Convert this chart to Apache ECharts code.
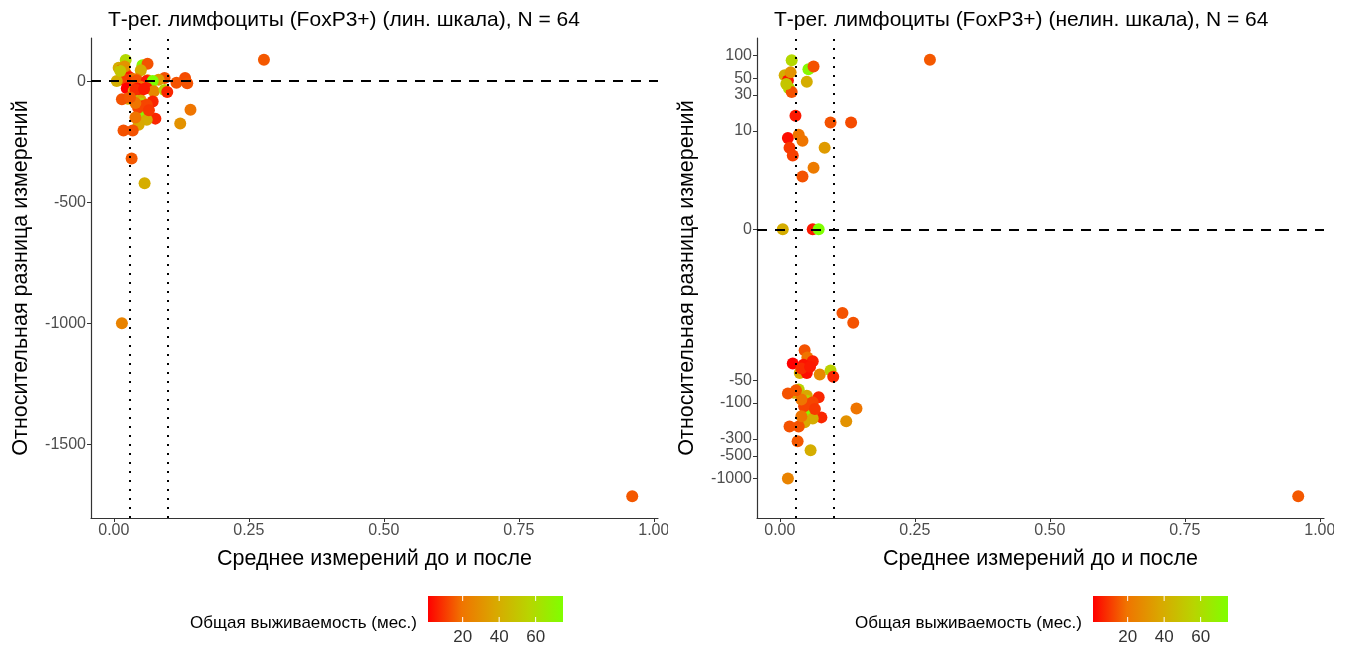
<!DOCTYPE html>
<html>
<head>
<meta charset="utf-8">
<script src="https://cdn.jsdelivr.net/npm/echarts@6/dist/echarts.min.js"></script>
<style>
  html, body { margin: 0; padding: 0; background: #fff; }
  #chart { width: 1352px; height: 653px; }
</style>
</head>
<body>
<div id="chart"></div>
<script>
// среднее измерений до и после
const xMean = [
  0.022, 0.053, 0.0625, 0.009, 0.015, 0.050, 0.017, 0.022, 0.029, 0.094,
  0.132, 0.015, 0.035, 0.042, 0.018, 0.024, 0.083, 0.0625, 0.042, 0.0055,
  0.061, 0.072, 0.278, 0.116, 0.136, 0.046, 0.051, 0.024, 0.061, 0.044,
  0.037, 0.050, 0.074, 0.094, 0.099, 0.035, 0.026, 0.015, 0.050, 0.050,
  0.072, 0.053, 0.061, 0.053, 0.077, 0.061, 0.046, 0.018, 0.035, 0.142,
  0.123, 0.033, 0.057, 0.015, 0.960, 0.040, 0.056, 0.045, 0.065, 0.040,
  0.030, 0.020, 0.012, 0.040
]
// относительная разница измерений
const relDiff = [
  87, 66, 72, 55, 47, 45, 37, 33, 16, 13,
  13, 8.1, 8.9, 7.4, 6.0, 4.7, 6.0, 3.2, 2.4, 0,
  0, 0, 88, -6.4, -8.6, -20, -25, -30, -28, -31,
  -40, -40, -42, -37, -45, -66, -73, -75, -80, -93,
  -84, -104, -98, -133, -155, -160, -180, -204, -204, -118,
  -175, -320, -422, -1000, -1715, -35, -33, -110, -120, -90,
  -68, 60, 42, -150
]
// общая выживаемость, мес.
const survival = [
  58, 72, 14, 40, 4, 40, 62, 14, 5, 14,
  13, 3, 20, 20, 10, 11, 33, 22, 14, 40,
  5, 75, 15, 14, 14, 14, 20, 1, 6, 4,
  40, 3, 27, 55, 7, 55, 40, 14, 38, 55,
  7, 9, 12, 72, 7, 40, 38, 14, 14, 20,
  30, 15, 40, 25, 15, 8, 5, 12, 10, 20,
  15, 30, 50, 20
]

const xTicks = [0, 0.25, 0.5, 0.75, 1]
const yTicksLin = [0, -500, -1000, -1500]
const yTicksNonlin = [100, 50, 30, 10, 0, -50, -100, -300, -500, -1000]
const legendTicks = [20, 40, 60]
const refX = [0.026, 0.101]
const refY = 0

const gradColors = ['#FF0000', '#F07400', '#D9A800', '#B8D500', '#7FFF00']
const fontFamily = '"Liberation Sans", Arial, sans-serif'

const survMin = Math.min(...survival)
const survMax = Math.max(...survival)

function expand (arr) {
  const lo = Math.min(...arr), hi = Math.max(...arr)
  const pad = (hi - lo) * 0.05
  return [lo - pad, hi + pad]
}

const linData = xMean.map((x, i) => [x, relDiff[i], survival[i]])
const nonlinData = xMean.map((x, i) => [x, Math.asinh(relDiff[i]), survival[i]])

const xRange = expand(xMean)
const yLinRange = expand(relDiff)
const yNonRange = expand(relDiff.map(Math.asinh))

const labelStyle = { fontSize: 16, color: '#4D4D4D', fontFamily: fontFamily }
const nameStyle = { fontSize: 21.5, color: '#000', fontFamily: fontFamily }

function xAxis (idx) {
  return {
    type: 'value',
    gridIndex: idx,
    min: xRange[0],
    max: xRange[1],
    name: 'Среднее измерений до и после',
    nameLocation: 'middle',
    nameGap: 30,
    nameTextStyle: nameStyle,
    axisLine: { show: true, onZero: false, lineStyle: { color: '#333', width: 1.2 } },
    axisTick: { show: true, customValues: xTicks, length: 4, lineStyle: { color: '#333' } },
    axisLabel: Object.assign({ customValues: xTicks, margin: 5, formatter: v => v.toFixed(2) }, labelStyle),
    splitLine: { show: false }
  }
}

function yAxis (idx, range, ticks, fmt) {
  return {
    type: 'value',
    gridIndex: idx,
    min: range[0],
    max: range[1],
    name: 'Относительная разница измерений',
    nameLocation: 'middle',
    nameGap: 59,
    nameTextStyle: nameStyle,
    axisLine: { show: true, onZero: false, lineStyle: { color: '#333', width: 1.2 } },
    axisTick: { show: true, customValues: ticks, length: 4, lineStyle: { color: '#333' } },
    axisLabel: Object.assign({ customValues: ticks, margin: 5, formatter: fmt }, labelStyle),
    splitLine: { show: false }
  }
}

function refLines (yVal) {
  return {
    silent: true,
    symbol: 'none',
    z: 10,
    label: { show: false },
    data: [
      { yAxis: yVal, lineStyle: { color: '#000', width: 2, type: [10, 8] } },
      { xAxis: refX[0], lineStyle: { color: '#000', width: 2, type: [2, 7] } },
      { xAxis: refX[1], lineStyle: { color: '#000', width: 2, type: [2, 7] } }
    ]
  }
}

// colour bar legends (one under each panel)
function colorBar (barLeft) {
  const barW = 135, barTop = 596, barH = 26
  const els = []
  els.push({
    type: 'text', x: barLeft - 11, y: 623,
    style: { text: 'Общая выживаемость (мес.)', fontSize: 17, fill: '#000', fontFamily: fontFamily, align: 'right', verticalAlign: 'middle' }
  })
  els.push({
    type: 'rect', shape: { x: barLeft, y: barTop, width: barW, height: barH },
    style: { fill: new echarts.graphic.LinearGradient(0, 0, 1, 0,
      gradColors.map((c, i) => ({ offset: i / (gradColors.length - 1), color: c }))) }
  })
  legendTicks.forEach(t => {
    const px = barLeft + (t - survMin) / (survMax - survMin) * barW
    els.push({ type: 'line', shape: { x1: px, y1: barTop, x2: px, y2: barTop + 5 }, style: { stroke: '#fff', lineWidth: 1 } })
    els.push({ type: 'line', shape: { x1: px, y1: barTop + barH - 5, x2: px, y2: barTop + barH }, style: { stroke: '#fff', lineWidth: 1 } })
    els.push({
      type: 'text', x: px, y: barTop + barH + 7,
      style: { text: String(t), fontSize: 17, fill: '#333', fontFamily: fontFamily, align: 'center', verticalAlign: 'top' }
    })
  })
  return els
}

// the source image is cut at the right edge of each plot, clipping the "1.00" label
const edgeMasks = [
  { type: 'rect', shape: { x: 668, y: 521, width: 14, height: 22 }, style: { fill: '#fff' }, z: 100 },
  { type: 'rect', shape: { x: 1334, y: 521, width: 18, height: 22 }, style: { fill: '#fff' }, z: 100 }
]

const chart = echarts.init(document.getElementById('chart'), null, { renderer: 'canvas' })

const titleStyle = { fontSize: 21, fontWeight: 'normal', color: '#000', fontFamily: fontFamily }

const option = {
  backgroundColor: '#fff',
  animation: false,
  title: [
    { text: 'Т-рег. лимфоциты (FoxP3+) (лин. шкала), N = 64', left: 103, top: 5, textStyle: titleStyle },
    { text: 'Т-рег. лимфоциты (FoxP3+) (нелин. шкала), N = 64', left: 769, top: 5, textStyle: titleStyle }
  ],
  grid: [
    { left: 91, width: 567, top: 38, height: 480 },
    { left: 757, width: 567, top: 38, height: 480 }
  ],
  xAxis: [xAxis(0), xAxis(1)],
  yAxis: [
    yAxis(0, yLinRange, yTicksLin, v => String(Math.round(v))),
    yAxis(1, yNonRange, yTicksNonlin.map(Math.asinh), v => String(Math.round(Math.sinh(v))))
  ],
  visualMap: {
    show: false,
    type: 'continuous',
    dimension: 2,
    min: survMin,
    max: survMax,
    seriesIndex: [0, 1],
    inRange: { color: gradColors }
  },
  series: [
    {
      type: 'scatter', xAxisIndex: 0, yAxisIndex: 0,
      symbolSize: 12, data: linData,
      itemStyle: { opacity: 1 },
      markLine: refLines(refY)
    },
    {
      type: 'scatter', xAxisIndex: 1, yAxisIndex: 1,
      symbolSize: 12, data: nonlinData,
      itemStyle: { opacity: 1 },
      markLine: refLines(Math.asinh(refY))
    }
  ],
  graphic: colorBar(428).concat(colorBar(1093)).concat(edgeMasks)
}

chart.setOption(option)
</script>
</body>
</html>
